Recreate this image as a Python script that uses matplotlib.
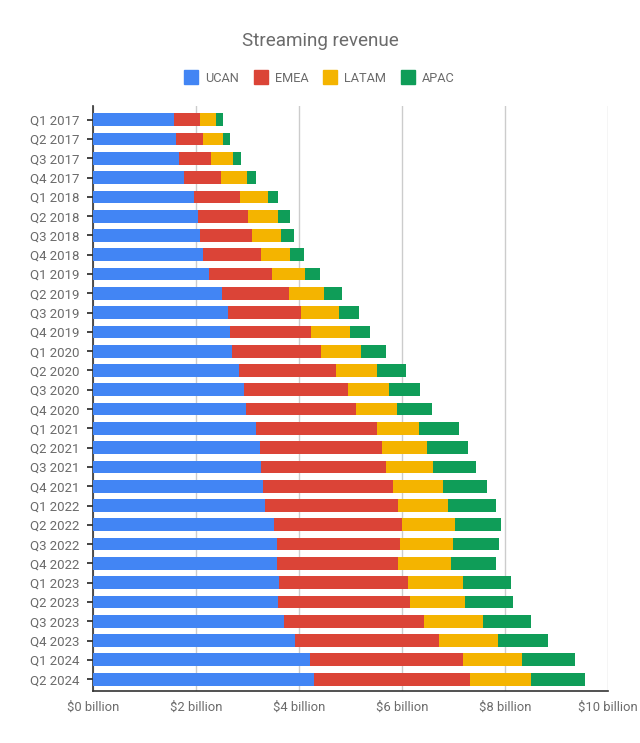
import matplotlib.pyplot as plt
import matplotlib.lines as mlines
import numpy as np

plt.rcParams["font.family"] = ["Roboto", "DejaVu Sans"]

quarters = [
    "Q1 2017", "Q2 2017", "Q3 2017", "Q4 2017",
    "Q1 2018", "Q2 2018", "Q3 2018", "Q4 2018",
    "Q1 2019", "Q2 2019", "Q3 2019", "Q4 2019",
    "Q1 2020", "Q2 2020", "Q3 2020", "Q4 2020",
    "Q1 2021", "Q2 2021", "Q3 2021", "Q4 2021",
    "Q1 2022", "Q2 2022", "Q3 2022", "Q4 2022",
    "Q1 2023", "Q2 2023", "Q3 2023", "Q4 2023",
    "Q1 2024", "Q2 2024",
]

# revenue in $ billion
ucan = [1.58, 1.61, 1.68, 1.78, 1.96, 2.04, 2.09, 2.15,
        2.25, 2.50, 2.62, 2.66, 2.70, 2.83, 2.93, 2.97,
        3.16, 3.24, 3.26, 3.31, 3.35, 3.52, 3.58, 3.58,
        3.61, 3.59, 3.72, 3.92, 4.22, 4.29]
emea = [0.50, 0.53, 0.62, 0.71, 0.89, 0.97, 1.01, 1.11,
        1.23, 1.31, 1.42, 1.57, 1.73, 1.89, 2.02, 2.14,
        2.36, 2.38, 2.43, 2.52, 2.57, 2.48, 2.38, 2.35,
        2.50, 2.57, 2.71, 2.80, 2.96, 3.03]
latam = [0.32, 0.39, 0.43, 0.50, 0.56, 0.58, 0.56, 0.56,
         0.64, 0.68, 0.74, 0.76, 0.78, 0.80, 0.80, 0.80,
         0.82, 0.87, 0.92, 0.97, 0.98, 1.03, 1.04, 1.03,
         1.07, 1.07, 1.14, 1.15, 1.15, 1.19]
apac = [0.12, 0.13, 0.14, 0.18, 0.18, 0.23, 0.25, 0.29,
        0.30, 0.34, 0.38, 0.40, 0.49, 0.56, 0.60, 0.68,
        0.76, 0.80, 0.82, 0.86, 0.93, 0.89, 0.88, 0.86,
        0.94, 0.92, 0.94, 0.96, 1.03, 1.05]

regions = ["UCAN", "EMEA", "LATAM", "APAC"]
colors = ["#4285F4", "#DB4437", "#F4B400", "#0F9D58"]
x_ticks = [0, 2, 4, 6, 8, 10]

TEXT = "#6b6b6b"

fig = plt.figure(figsize=(6.4, 7.43), dpi=100)
ax = fig.add_axes([0.1448, 0.0696, 0.9500 - 0.1448, 0.8573 - 0.0696])

y = np.arange(len(quarters))
left = np.zeros(len(quarters))
for vals, color in zip([ucan, emea, latam, apac], colors):
    ax.barh(y, vals, left=left, height=0.66, color=color, zorder=3)
    left = left + np.array(vals)

ax.set_ylim(len(quarters) - 1 + 0.63, -0.71)
ax.set_xlim(0, 10)
ax.set_yticks(y)
ax.set_yticklabels(quarters)
ax.set_xticks(x_ticks)
ax.set_xticklabels([f"${v} billion" for v in x_ticks])

ax.grid(axis="x", color="#cccccc", linewidth=1, zorder=0)
for side in ["top", "right"]:
    ax.spines[side].set_visible(False)
for side in ["left", "bottom"]:
    ax.spines[side].set_color("#333333")
    ax.spines[side].set_linewidth(1.2)

ax.tick_params(axis="y", direction="inout", length=9, width=1.2, color="#222222",
               labelsize=9.5, labelcolor=TEXT, pad=5)
ax.tick_params(axis="x", length=0, labelsize=9.4, labelcolor=TEXT, pad=7)

fig.text(0.5, 1 - 41 / 743, "Streaming revenue", ha="center", va="center",
         fontsize=13.6, color=TEXT)

handles = [
    mlines.Line2D([], [], color=c, marker="s", linestyle="None", markersize=9.4, label=r)
    for r, c in zip(regions, colors)
]
fig.legend(handles=handles, loc="center", bbox_to_anchor=(0.5, 1 - 78 / 743), ncol=4,
           frameon=False, fontsize=9.2, labelcolor=TEXT, handlelength=1.0,
           handletextpad=0.6, columnspacing=1.2)

fig.savefig("out.png", dpi=100)
